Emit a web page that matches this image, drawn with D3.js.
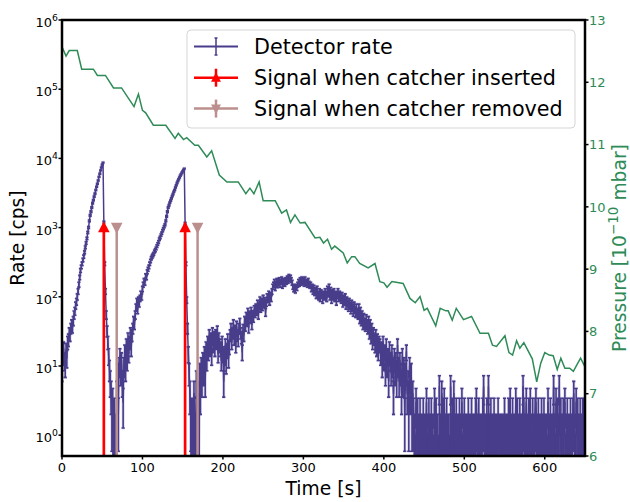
<!DOCTYPE html>
<html><head><meta charset="utf-8">
<script src="https://cdn.jsdelivr.net/npm/d3@7"></script>
<style>body{margin:0;background:#fff}svg{display:block}text{font-family:"DejaVu Sans",sans-serif}</style>
</head><body><svg id="c" width="630" height="502"></svg>
<script>
// ---- data ----
const binWidth = 1; // s per bin, rate bins start at t = 0
const rate = [
 9,14,18,12,10,17,13,22,24,30,28,35,40,36,45,
 55,62,75,85,100,120,
 150,190,240,270,300,340,
 380,440,520,600,700,
 850,1000,1250,1500,
 1700,1950,2250,2500,
 2800,3100,3500,3900,
 4300,4800,5400,6000,
 6700,7400,8100,8700,
 1200,300,120,55,32,22,14,9,6,4,2,3,0,2,0,1,
 4,8,2,10,14,8,12,6,3,10,16,9,20,12,25,15,22,30,18,28,
 35,45,40,55,70,85,65,90,80,95,110,100,
 130,150,170,160,200,190,230,250,
 270,300,330,360,380,400,420,450,470,500,540,580,
 620,680,720,780,830,900,960,1030,1100,
 1250,1450,1700,1950,
 2100,2300,2450,2650,2850,3050,3300,3500,
 3800,4100,4400,4700,5000,5300,5600,
 5900,6200,6500,6800,7100,
 1150,300,90,35,15,8,4,2,
 0,2,0,4,2,0,6,2,4,0,8,4,10,6,12,
 8,15,6,18,12,22,16,28,18,25,14,30,20,26,18,
 28,22,32,15,25,20,
 18,12,22,15,6,14,20,11,17,24,13,19,28,
 35,22,30,40,25,33,20,38,28,24,35,42,30,26,16,34,28,45,
 38,52,44,60,36,55,48,62,40,56,50,66,58,
 70,62,80,55,75,90,68,85,72,95,78,88,60,82,100,92,110,85,105,95,120,
 140,150,165,135,155,170,148,160,175,150,165,180,145,160,170,155,175,165,
 185,170,195,180,190,175,160,
 140,130,135,125,140,135,150,
 165,155,175,160,180,165,170,155,180,165,160,150,170,155,145,
 150,130,140,120,135,115,125,105,130,110,100,120,95,115,105,90,110,100,120,105,95,
 130,110,140,100,125,90,115,100,120,95,110,85,105,120,95,110,
 100,90,105,80,95,85,100,75,90,80,70,85,75,65,80,70,60,75,65,58,70,
 60,55,70,48,62,45,55,40,50,42,38,48,40,
 35,45,30,40,26,35,22,30,25,20,28,18,24,16,22,20,
 14,18,10,22,12,16,8,20,10,14,6,18,12,8,16,10,4,14,8,12,6,20,10,6,12,
 8,4,14,6,10,2,8,16,4,6,2,10,4,8,2,4
];
const rateTail = [
 2,1,0,3,1,2,0,1,2,0, 1,0,2,1,0,1,3,0,1,2, 0,1,2,0,1,0,3,1,2,0,
 1,0,5,1,0,4,2,0,3,1, 0,2,1,0,1,0,5,1,2,0, 4,1,0,2,1,0,1,2,0,1,
 3,0,1,2,0,1,1,0,2,1, 0,1,2,1,0,1,0,2,3,1, 0,2,1,1,0,1,2,5,1,0,
 1,2,0,5,1,0,2,1,0,1, 2,0,1,1,0,2,1,1,0,1, 1,1,0,2,1,1,0,1,2,1,
 3,0,1,2,1,0,1,3,1,2, 0,1,2,0,1,1,5,2,0,1, 3,1,0,2,1,3,0,1,2,1,
 0,2,3,1,0,2,1,0,1,2, 0,1,2,1,0,1,0,3,1,0, 2,1,0,1,5,1,0,3,1,2,
 0,5,1,2,0,1,2,1,3,0, 1,2,0,1,1,2,0,1,2,4, 1,0,3,1,2,0,1,2,1,0,
 2,1,2,1
];
const pressureTime = [0,5,9,19,24.5,39,44,54,64,74,89.5,95,100,104,113.5,129,140.5,144.5,151,155,165,169.5,180,186,195.5,205,219,228.5,233.5,238.5,245,250,265,273,279,284,289.5,296,302,314.5,320.5,325,330,335,339,349.5,354.5,360,364,370,380.5,389,395,400,404,410,424,432.5,439,445,450,454,464.5,470,477,480,485,490,499,509,519.5,530,535,540,550.5,555.5,560,565,569,574,584.5,590,595,600,605.5,610.5,615.5,620,625,631,635.5,644.5,650];
const pressureValue = [12.57,12.42,12.51,12.51,12.21,12.21,12.11,12.11,11.91,11.91,11.61,11.81,11.55,11.51,11.31,11.31,11.10,11.18,11.08,11.11,10.99,10.99,10.80,10.90,10.51,10.40,10.40,10.21,10.30,10.21,10.40,10.10,10.10,9.90,9.95,9.75,9.87,9.74,9.75,9.50,9.51,9.42,9.48,9.32,9.37,9.26,9.10,9.20,9.20,9.09,9.02,9.09,8.80,8.78,8.71,8.80,8.77,8.53,8.46,8.56,8.34,8.37,8.09,8.37,8.33,8.33,8.18,8.37,8.19,8.24,7.97,7.97,7.78,7.76,7.93,7.66,7.62,7.85,7.73,7.82,7.56,7.19,7.49,7.66,7.62,7.61,7.39,7.57,7.41,7.41,7.36,7.57,7.43];
const insertedTimes = [52, 153];
const removedTimes = [68, 168.5];
const signalLevel = 1000;
const xTicks = [0,100,200,300,400,500,600];
const yTickExponents = [0,1,2,3,4,5,6];
const pTicks = [6,7,8,9,10,11,12,13];
const legendLabels = ["Detector rate","Signal when catcher inserted","Signal when catcher removed"];

// ---- layout ----
const L=62,R=585,T=20,B=456;
const cBlue="#483d8b", cRed="#ff0000", cBrown="#bc8f8f", cGreen="#2e8b57";
const svg=d3.select("#c");
const x=d3.scaleLinear().domain([0,650]).range([L,R]);
const y=d3.scaleLog().domain([0.5,1e6]).range([B,T]);
const yp=d3.scaleLinear().domain([6,13]).range([B,T]);
const floorV=1e-3;

svg.append("defs").append("clipPath").attr("id","pc").append("rect")
  .attr("x",L).attr("y",T).attr("width",R-L).attr("height",B-T);
const plot=svg.append("g").attr("clip-path","url(#pc)");

const allRate=rate.concat(rateTail);
const pts=allRate.map((v,i)=>({t:i*binWidth,v}));
const yv=v=>y(Math.max(v,floorV));

const lineD=d3.line().x(d=>x(d.t)).y(d=>yv(d.v))(pts);
let eb="";const cap=1.6;
pts.forEach(d=>{
  if(d.v<=0)return;
  const s=Math.sqrt(d.v*binWidth)/binWidth;
  const lo=d.v-s, hi=d.v+s;
  const px=x(d.t), y1=yv(lo), y2=y(hi);
  eb+=`M${px},${y1}V${y2}M${px-cap},${y2}H${px+cap}`;
  if(lo>floorV) eb+=`M${px-cap},${y1}H${px+cap}`;
});
// soft halo
plot.append("path").attr("d",eb).attr("fill","none").attr("stroke","#c9c5e6").attr("stroke-width",3).attr("stroke-opacity",0.7);
plot.append("path").attr("d",lineD).attr("fill","none").attr("stroke",cBlue).attr("stroke-width",1.5).attr("stroke-linejoin","round");
plot.append("path").attr("d",eb).attr("fill","none").attr("stroke",cBlue).attr("stroke-width",1.6);

// signals
function triUp(cx,cy,s){return `M${cx},${cy-s*0.6}L${cx+s*0.55},${cy+s*0.45}L${cx-s*0.55},${cy+s*0.45}Z`;}
function triDown(cx,cy,s){return `M${cx},${cy+s*0.6}L${cx+s*0.55},${cy-s*0.45}L${cx-s*0.55},${cy-s*0.45}Z`;}
insertedTimes.forEach(t=>{
  plot.append("line").attr("x1",x(t)).attr("x2",x(t)).attr("y1",B+5).attr("y2",y(signalLevel))
    .attr("stroke",cRed).attr("stroke-width",2.7);
  plot.append("path").attr("d",triUp(x(t),y(signalLevel),10.5)).attr("fill",cRed);
});
removedTimes.forEach(t=>{
  plot.append("line").attr("x1",x(t)).attr("x2",x(t)).attr("y1",B+5).attr("y2",y(signalLevel))
    .attr("stroke",cBrown).attr("stroke-width",2.5);
  plot.append("path").attr("d",triDown(x(t),y(signalLevel),10.5)).attr("fill",cBrown);
});

// pressure
plot.append("path").datum(pressureTime.map((t,i)=>({t,p:pressureValue[i]})))
  .attr("d",d3.line().x(d=>x(d.t)).y(d=>yp(d.p)))
  .attr("fill","none").attr("stroke",cGreen).attr("stroke-width",1.5);

// axes
const ax=svg.append("g");
const tickW=1.5, tickL=3.5, fs=13;
xTicks.forEach(t=>{
  ax.append("line").attr("x1",x(t)).attr("x2",x(t)).attr("y1",B).attr("y2",B+tickL).attr("stroke","#000").attr("stroke-width",tickW);
  ax.append("text").attr("x",x(t)).attr("y",B+15.5).attr("text-anchor","middle").attr("font-size",fs).text(t);
});
yTickExponents.forEach(e=>{
  const py=y(Math.pow(10,e));
  ax.append("line").attr("x1",L-tickL).attr("x2",L).attr("y1",py).attr("y2",py).attr("stroke","#000").attr("stroke-width",tickW);
  const tx=ax.append("text").attr("x",L-4).attr("y",py+7).attr("text-anchor","end").attr("font-size",fs);
  tx.append("tspan").text("10");
  tx.append("tspan").attr("dy",-6).attr("font-size",9.3).text(e);
});
pTicks.forEach(p=>{
  const py=yp(p);
  ax.append("line").attr("x1",R).attr("x2",R+tickL).attr("y1",py).attr("y2",py).attr("stroke","#000").attr("stroke-width",tickW);
  ax.append("text").attr("x",R+4).attr("y",py+4.7).attr("font-size",fs).attr("fill",cGreen).text(p);
});
ax.append("rect").attr("x",L).attr("y",T).attr("width",R-L).attr("height",B-T)
  .attr("fill","none").attr("stroke","#000").attr("stroke-width",2.5);

// axis labels
const lfs=18.7;
ax.append("text").attr("x",(L+R)/2).attr("y",494.5).attr("text-anchor","middle").attr("font-size",lfs).text("Time [s]");
ax.append("text").attr("transform","translate(24,238) rotate(-90)").attr("text-anchor","middle").attr("font-size",lfs).text("Rate [cps]");
const pl=ax.append("text").attr("transform","translate(626,248) rotate(-90)").attr("text-anchor","middle").attr("font-size",lfs).attr("fill",cGreen);
pl.append("tspan").text("Pressure [10");
pl.append("tspan").attr("dy",-8).attr("font-size",13.5).text("\u221210");
pl.append("tspan").attr("dy",8).text(" mbar]");

// legend
const lg=svg.append("g");
lg.append("rect").attr("x",187).attr("y",30).attr("width",388).attr("height",98).attr("rx",4)
  .attr("fill","#fff").attr("fill-opacity",0.8).attr("stroke","#d5d5d5").attr("stroke-width",1);
const rowsY=[46.5,77.7,108.6];
const hx1=194,hx2=238,hc=216;
lg.append("line").attr("x1",hx1).attr("x2",hx2).attr("y1",rowsY[0]).attr("y2",rowsY[0]).attr("stroke",cBlue).attr("stroke-width",2);
lg.append("path").attr("d",`M${hc},${rowsY[0]-8.5}V${rowsY[0]+8.5}M${hc-1.5},${rowsY[0]-8.5}H${hc+1.5}M${hc-1.5},${rowsY[0]+8.5}H${hc+1.5}`).attr("stroke",cBlue).attr("stroke-width",1.5).attr("fill","none");
lg.append("line").attr("x1",hx1).attr("x2",hx2).attr("y1",rowsY[1]).attr("y2",rowsY[1]).attr("stroke",cRed).attr("stroke-width",2.5);
lg.append("line").attr("x1",hc).attr("x2",hc).attr("y1",rowsY[1]-9).attr("y2",rowsY[1]+9).attr("stroke",cRed).attr("stroke-width",2.5);
lg.append("path").attr("d",triUp(hc,rowsY[1],9)).attr("fill",cRed);
lg.append("line").attr("x1",hx1).attr("x2",hx2).attr("y1",rowsY[2]).attr("y2",rowsY[2]).attr("stroke",cBrown).attr("stroke-width",2.5);
lg.append("line").attr("x1",hc).attr("x2",hc).attr("y1",rowsY[2]-9).attr("y2",rowsY[2]+9).attr("stroke",cBrown).attr("stroke-width",2.5);
lg.append("path").attr("d",triDown(hc,rowsY[2],9)).attr("fill",cBrown);
legendLabels.forEach((s,i)=>{
  lg.append("text").attr("x",254).attr("y",rowsY[i]+7.6).attr("font-size",20.7).attr("fill","#000").text(s);
});
</script></body></html>
